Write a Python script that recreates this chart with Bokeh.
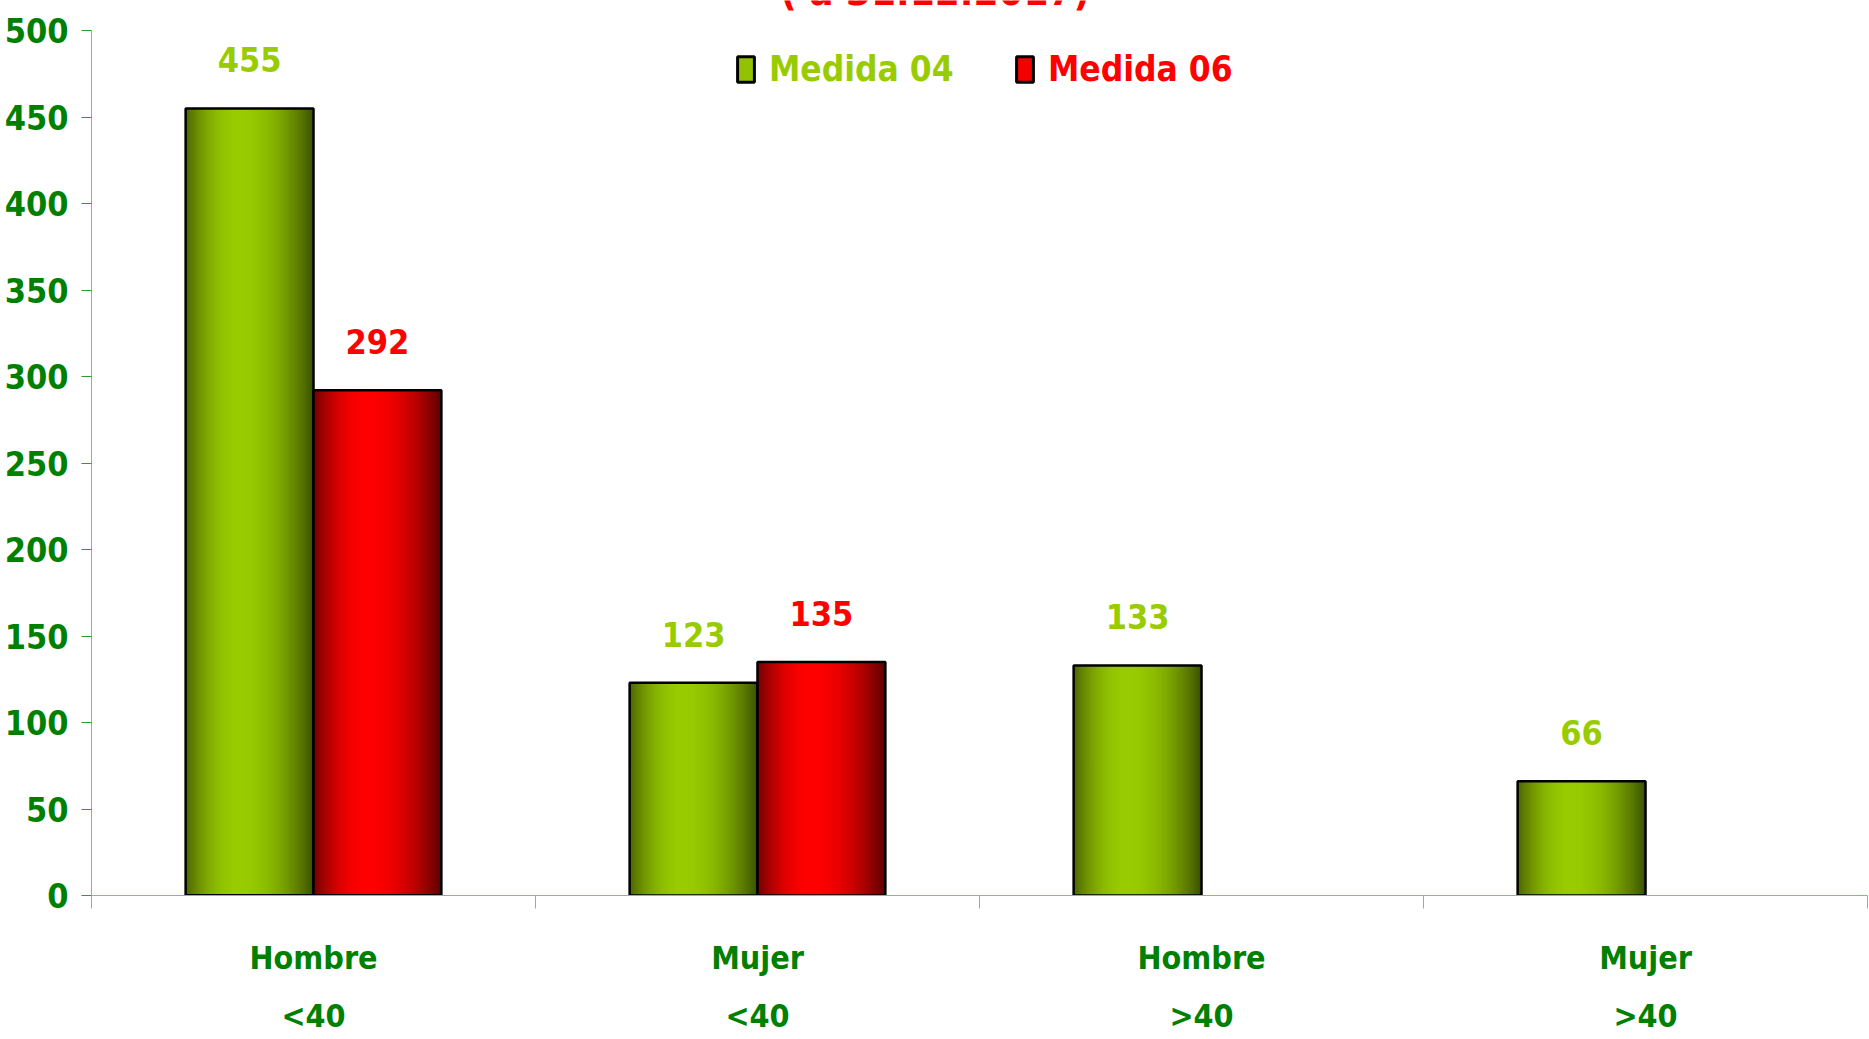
import numpy as np
from bokeh.plotting import figure
from bokeh.models import (Range1d, FixedTicker, ColumnDataSource, LabelSet, Label,
                          Legend, LegendItem)
from bokeh.core.properties import value
from bokeh.embed import file_html
from bokeh.resources import INLINE

# ---------------- data ----------------
categories = ["Hombre\n<40", "Mujer\n<40", "Hombre\n>40", "Mujer\n>40"]
medida_04 = [455, 123, 133, 66]
medida_06 = [292, 135, np.nan, np.nan]
series_names = ["Medida 04", "Medida 06"]
y_ticks = [0, 50, 100, 150, 200, 250, 300, 350, 400, 450, 500]
y_max = 500
title_text = "( a 31.12.2017)"

# ---------------- style ----------------
FONT = "DejaVu Sans Condensed"
GREEN_TXT = "#008000"
C04 = "#99CC00"
C06 = "#FF0000"
BAR_W = 0.288
OFFSETS = [-BAR_W / 2, BAR_W / 2]
N_STRIPS = 64
FRAME_H = 1038 - 144          # frame from canvas top down to the zero line
TOP_PAD_PX = 30               # space above the 500 tick (title sits there, cut off)

def grad(t, dark_l, bright, dark_r, peak=0.42):
    if t < peak:
        m = 1 - ((peak - t) / peak) ** 2
        d = dark_l
    else:
        m = 1 - ((t - peak) / (1 - peak)) ** 2
        d = dark_r
    m = max(0.0, min(1.0, m))
    c = [int(round(d[k] + (bright[k] - d[k]) * m)) for k in range(3)]
    return "#%02x%02x%02x" % tuple(c)

GRADS = [((0x4a, 0x62, 0x00), (0x99, 0xCC, 0x00), (0x3c, 0x52, 0x00)),
         ((0x70, 0x00, 0x00), (0xFF, 0x00, 0x00), (0x5c, 0x00, 0x00))]

y_end = y_max * FRAME_H / (FRAME_H - TOP_PAD_PX)
p = figure(width=1868, height=1038, output_backend="svg", toolbar_location=None,
           x_range=Range1d(0, 4), y_range=Range1d(0, y_end),
           min_border_left=91, min_border_right=1, min_border_top=0, min_border_bottom=143)
p.outline_line_color = None
p.grid.visible = False
p.background_fill_color = "white"

xc = np.arange(len(categories)) + 0.5
series = [medida_04, medida_06]
label_colors = [C04, C06]
legend_renderers = []
for si, vals in enumerate(series):
    vals = np.array(vals, dtype=float)
    ok = ~np.isnan(vals)
    bx = xc[ok] + OFFSETS[si]
    bv = vals[ok]
    # gradient strips
    sx, st, sc = [], [], []
    for i in range(N_STRIPS):
        t = (i + 0.5) / N_STRIPS
        col = grad(t, *GRADS[si])
        for x0, v in zip(bx, bv):
            sx.append(x0 - BAR_W / 2 + t * BAR_W)
            st.append(v)
            sc.append(col)
    p.vbar(x=sx, top=st, bottom=0, width=BAR_W / N_STRIPS * 1.6, fill_color=sc,
           line_color=None)
    # outline
    p.vbar(x=bx, top=bv, bottom=0, width=BAR_W, fill_color=None,
           line_color="black", line_width=2.5)
    # value labels
    src = ColumnDataSource(dict(x=bx, y=bv, t=[str(int(v)) for v in bv]))
    p.add_layout(LabelSet(x="x", y="y", text="t", source=src, y_offset=36,
                          text_align="center", text_baseline="alphabetic",
                          text_font=value(FONT), text_font_style="bold",
                          text_font_size="34px", text_color=label_colors[si]))
    # legend proxy (zero-height bar hidden at the base of an existing bar)
    lr = p.vbar(x=[bx[0]], top=[0], bottom=[0], width=BAR_W,
                fill_color=grad(0.3, *GRADS[si]),
                line_color="black", line_width=3)
    legend_renderers.append(lr)

for si, (lr, loc) in enumerate(zip(legend_renderers, [(644, 806), (923, 806)])):
    lg = Legend(items=[LegendItem(label=series_names[si], renderers=[lr])],
                location=loc, orientation="horizontal",
                glyph_width=21, glyph_height=32, label_height=32, label_standoff=13,
                padding=0, margin=0, spacing=0,
                border_line_color=None, background_fill_alpha=0,
                label_text_font=FONT, label_text_font_style="bold",
                label_text_font_size="35px", label_text_color=label_colors[si])
    p.add_layout(lg, "center")

# title (cut off at the top edge, as in the original)
p.add_layout(Label(x=1.90, y=y_max, y_offset=40, text=title_text, text_align="center",
                   text_baseline="alphabetic", text_font=FONT, text_font_style="bold",
                   text_font_size="40px", text_color="#FF0000"))

# y axis
ya = p.yaxis[0]
ya.bounds = (0, y_max)
ya.ticker = FixedTicker(ticks=y_ticks)
ya.axis_line_color = "#7fbf7f"
ya.major_tick_line_color = "#2e9a2e"
ya.major_tick_out = 10
ya.major_tick_in = 0
ya.minor_tick_line_color = None
ya.major_label_standoff = 13
ya.major_label_text_font = FONT
ya.major_label_text_font_style = "bold"
ya.major_label_text_font_size = "34px"
ya.major_label_text_color = GREEN_TXT

# x axis: labels at group centres, ticks at group boundaries
xa = p.xaxis[0]
xa.ticker = FixedTicker(ticks=list(xc), minor_ticks=list(range(len(categories) + 1)))
xa.major_label_overrides = {float(x): c for x, c in zip(xc, categories)}
xa.axis_line_color = "#7fbf7f"
xa.major_tick_line_color = None
xa.major_tick_out = 0
xa.major_tick_in = 0
xa.minor_tick_line_color = "#7fbf7f"
xa.minor_tick_out = 13
xa.minor_tick_in = 0
xa.major_label_standoff = 30
xa.major_label_text_font = FONT
xa.major_label_text_font_style = "bold"
xa.major_label_text_font_size = "32px"
xa.major_label_text_line_height = 1.55
xa.major_label_text_color = GREEN_TXT

open("out.html", "w").write(file_html(p, INLINE))
